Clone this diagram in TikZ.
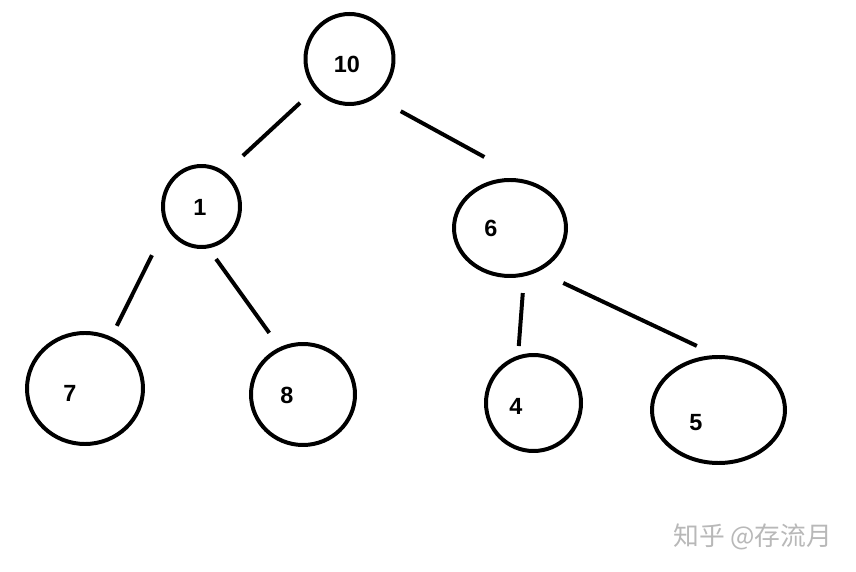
\documentclass[tikz,border=0pt]{standalone}
\usepackage{fontspec}
\setmainfont{Liberation Sans}
\newfontfamily\cjk{Noto Sans CJK SC}
\usetikzlibrary{shapes.geometric}

\begin{document}
\begin{tikzpicture}[
    x=0.03cm, y=-0.03cm,
    ring/.style={draw, ellipse, line width=3.4pt, inner sep=0pt, outer sep=0pt},
    num/.style={font=\fontsize{20}{24}\selectfont\bfseries, inner sep=0pt},
    link/.style={line width=3.4pt}
  ]
    \useasboundingbox (0,0) rectangle (856,572);
    \node[ring, minimum width=2.64cm, minimum height=2.70cm] (n10) at (349.5,59) {};
    \node[ring, minimum width=2.31cm, minimum height=2.43cm] (n1) at (201.5,206.5) {};
    \node[ring, minimum width=3.36cm, minimum height=2.88cm] (n6) at (510,228) {};
    \node[ring, minimum width=3.48cm, minimum height=3.33cm] (n7) at (85,388.5) {};
    \node[ring, minimum width=3.12cm, minimum height=3.03cm] (n8) at (303,394.5) {};
    \node[ring, minimum width=2.85cm, minimum height=2.88cm] (n4) at (533.5,403) {};
    \node[ring, minimum width=3.99cm, minimum height=3.18cm] (n5) at (718.5,410) {};

    \node[num] (t10) at (347,64) {10};
    \node[num] (t1) at (200,207) {1};
    \node[num] (t6) at (491,228) {6};
    \node[num] (t7) at (70,393) {7};
    \node[num] (t8) at (287,395) {8};
    \node[num] (t4) at (516,406) {4};
    \node[num] (t5) at (696,423) {5};

    \draw[link, shorten <=0.65cm, shorten >=0.78cm] (n10.221) -- (n1.56);
    \draw[link, shorten <=0.92cm, shorten >=1.89cm] (n10.303) -- (n6.54);
    \draw[link, shorten <=1.02cm, shorten >=0.43cm] (n1.208) -- (n7.63);
    \draw[link, shorten <=0.46cm, shorten >=0.59cm] (n1.278) -- (n8.116);
    \draw[link, shorten <=0.56cm, shorten >=0.35cm] (n6.287) -- (n4.109);
    \draw[link, shorten <=0.89cm, shorten >=0.78cm] (n6.302) -- (n5.88);

    \node[anchor=west, inner sep=0pt, text=black!28, font=\cjk\fontsize{22}{26}\selectfont] (wm) at (673,537) {知乎 @存流月};
  \end{tikzpicture}
\end{document}
